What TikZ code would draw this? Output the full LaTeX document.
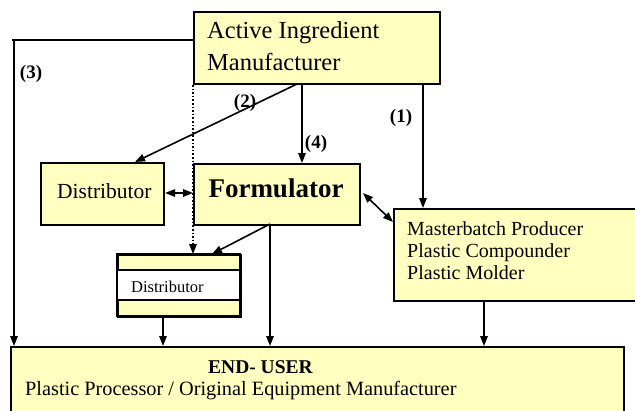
\documentclass[tikz,border=0pt]{standalone}
\usepackage{fontspec}
\setmainfont{Liberation Serif}
\usetikzlibrary{arrows.meta}
\definecolor{boxfill}{RGB}{255,255,192}
\tikzset{
  box/.style={draw=black, line width=2.1pt, fill=boxfill, rectangle, inner sep=0pt, anchor=north west},
  flow/.style={line width=1.6pt, -{Triangle[length=10pt,width=7.5pt]}},
  both/.style={line width=1.6pt, {Triangle[length=10pt,width=7.5pt]}-{Triangle[length=10pt,width=7.5pt]}},
  txt/.style={anchor=base west, inner sep=0pt},
  tag/.style={anchor=base, inner sep=0pt, font=\fontsize{19}{19}\selectfont\bfseries}
}
\begin{document}
\begin{tikzpicture}[x=1pt, y=-1pt]
\useasboundingbox (0,0) rectangle (635,410);
\begin{scope}
\clip (0,0) rectangle (635,410);

% boxes
\node[box, minimum width=246pt, minimum height=72pt] (aim) at (193,11) {};
\node[box, minimum width=123pt, minimum height=62pt] (dist) at (40,162) {};
\node[box, minimum width=166pt, minimum height=61pt] (form) at (193,163) {};
\node[box, minimum width=250pt, minimum height=92pt] (mb) at (393,208) {};
\node[box, minimum width=613pt, minimum height=80pt] (end) at (10,346) {};

% striped distributor
\node[box, minimum width=123pt, minimum height=62pt] (sdist) at (117,254) {};
\fill[white] (117,270) rectangle (240,300);
\draw[line width=2.1pt] (117,270) -- (240,270) (117,300) -- (240,300);
\draw[line width=2.1pt] (117,254) rectangle (240,316);

% texts
\node[txt, font=\fontsize{24.5}{24.5}\selectfont] (t1) at (207,38) {Active Ingredient};
\node[txt, font=\fontsize{24.5}{24.5}\selectfont] (t2) at (207,70) {Manufacturer};
\node[txt, font=\fontsize{21.5}{21.5}\selectfont] (t3) at (57,198) {Distributor};
\node[anchor=base, inner sep=0pt, font=\fontsize{27}{27}\selectfont\bfseries] (t4) at (276,197) {Formulator};
\node[txt, font=\fontsize{16.5}{16.5}\selectfont] (t5) at (131,292) {Distributor};
\node[txt, font=\fontsize{20}{20}\selectfont] (t6) at (407,235) {Masterbatch Producer};
\node[txt, font=\fontsize{20}{20}\selectfont] (t7) at (407,257) {Plastic Compounder};
\node[txt, font=\fontsize{20}{20}\selectfont] (t8) at (407,279) {Plastic Molder};
\node[txt, font=\fontsize{19.5}{19.5}\selectfont\bfseries] (t9) at (208,373) {END- USER};
\node[txt, font=\fontsize{20.3}{20.3}\selectfont] (t10) at (25,395) {Plastic Processor / Original Equipment Manufacturer};

% route labels
\node[tag] (l3) at (31,78) {(3)};
\node[tag] (l2) at (245,107) {(2)};
\node[tag] (l4) at (316,148) {(4)};
\node[tag] (l1) at (401,122) {(1)};

% helper points
\coordinate (c3) at (12,40);
\coordinate (cdot) at (193,85);

% connectors
\draw[line width=1.6pt] (aim.west |- 0,40) -- (c3);
\draw[flow] (14,40) -- (14,0 |- end.north);
\draw[flow] (297,84) -- (135,162);
\draw[flow] (302,84) -- (302,0 |- form.north);
\draw[flow] (423,84) -- (423,0 |- mb.north);
\draw[line width=1.6pt, dotted] (cdot) -- (193,246);
\draw[flow] (193,244) -- (193,0 |- sdist.north);
\draw[both] (dist.east |- 0,193) -- (form.west |- 0,193);
\draw[both] (363,193) -- (393,222);
\draw[flow] (270,224) -- (212,254);
\draw[flow] (270,224) -- (270,0 |- end.north);
\draw[flow] (163,316) -- (163,0 |- end.north);
\draw[flow] (484,300) -- (484,0 |- end.north);
\end{scope}
\end{tikzpicture}
\end{document}
